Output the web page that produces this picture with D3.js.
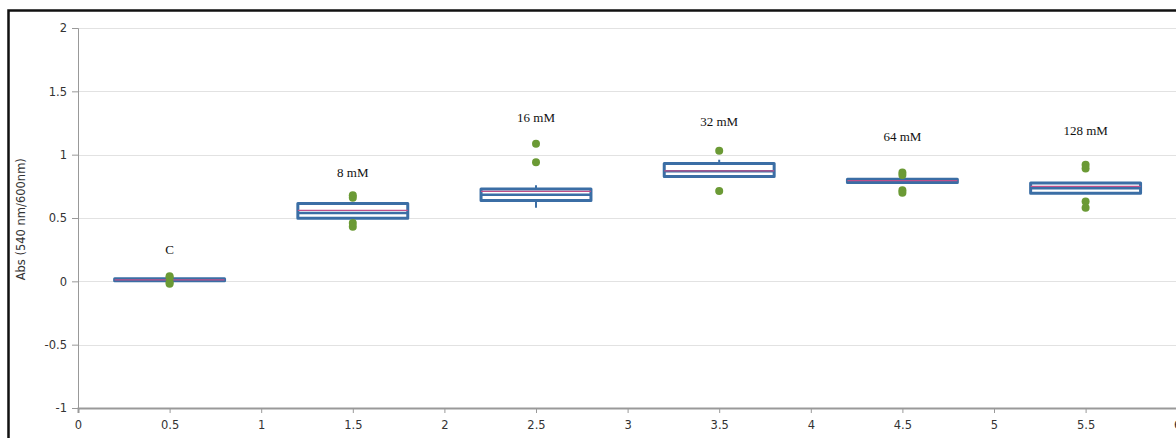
<!DOCTYPE html>
<html><head><meta charset="utf-8">
<script src="https://cdn.jsdelivr.net/npm/d3@7/dist/d3.min.js"></script>
<style>body{margin:0;background:#fff}svg{display:block}</style>
</head><body><svg id="c" width="1176" height="438"></svg>
<script>
const categories = ["C","8 mM","16 mM","32 mM","64 mM","128 mM"];
const positions = [0.5,1.5,2.5,3.5,4.5,5.5];
const q1 = [0.005,0.499,0.638,0.827,0.780,0.696];
const q3 = [0.020,0.614,0.728,0.930,0.805,0.777];
const medians = [0.012,0.540,0.684,0.870,0.792,0.735];
const means = [0.012,0.560,0.710,0.872,0.795,0.750];
const whiskLow = [0.005,0.499,0.580,0.827,0.780,0.696];
const whiskHigh = [0.020,0.614,0.758,0.960,0.805,0.777];
const points = [[0.04,0.03,-0.01,-0.02],[0.68,0.66,0.46,0.43],[1.087,0.94],[1.03,0.713],[0.86,0.84,0.72,0.70],[0.92,0.89,0.63,0.58]];
const labelY = [0.245,0.855,1.287,1.257,1.139,1.186];
const xTicks = [0,0.5,1,1.5,2,2.5,3,3.5,4,4.5,5,5.5,6];
const yTicks = [-1,-0.5,0,0.5,1,1.5,2];
const yTitle = "Abs (540 nm/600nm)";

const svg = d3.select("#c");
const x = d3.scaleLinear().domain([0,6]).range([78,1177.2]);
const y = d3.scaleLinear().domain([-1,2]).range([408,28]);
const half = 0.3;
const boxColor = "#3b6ea5", meanColor = "#c0508a", dotColor = "#6b9a35";
const fmt = d => String(d);

// frame
svg.append("rect").attr("x",8.5).attr("y",10.5).attr("width",1200).attr("height",500)
  .attr("fill","none").attr("stroke","#111").attr("stroke-width",2.5);

// gridlines
svg.append("g").selectAll("line").data(yTicks.filter(t=>t>-1)).join("line")
  .attr("x1",x(0)).attr("x2",1176).attr("y1",d=>Math.round(y(d))+0.5).attr("y2",d=>Math.round(y(d))+0.5)
  .attr("stroke","#e2e2e2").attr("stroke-width",1);

// y axis
const yAxis = svg.append("g").attr("transform",`translate(${x(0)},0)`)
  .call(d3.axisLeft(y).tickValues(yTicks).tickSize(6).tickPadding(5).tickFormat(fmt));
yAxis.select(".domain").attr("stroke","#999");
yAxis.selectAll(".tick line").attr("stroke","#999");
yAxis.selectAll("text").attr("fill","#333").style("font-family","DejaVu Sans").style("font-size","11.5px");

// x axis
const xAxis = svg.append("g").attr("transform",`translate(0,${y(-1)})`)
  .call(d3.axisBottom(x).tickValues(xTicks).tickSize(5).tickPadding(8).tickFormat(fmt));
xAxis.select(".domain").attr("stroke","#999").attr("stroke-width",2);
xAxis.selectAll(".tick line").attr("stroke","#999");
xAxis.selectAll("text").attr("fill","#333").style("font-family","DejaVu Sans").style("font-size","11.5px");

// y title
svg.append("text").attr("transform",`translate(25,${(y(0.06)+y(0.92))/2}) rotate(-90)`)
  .attr("text-anchor","middle").attr("fill","#333").style("font-family","DejaVu Sans").style("font-size","11.5px")
  .text(yTitle);

const g = svg.append("g");
categories.forEach((c,i)=>{
  const cx = x(positions[i]);
  g.append("line").attr("x1",cx).attr("x2",cx).attr("y1",y(whiskHigh[i])).attr("y2",y(whiskLow[i]))
    .attr("stroke",boxColor).attr("stroke-width",2);
  g.append("rect").attr("x",x(positions[i]-half)).attr("width",x(positions[i]+half)-x(positions[i]-half))
    .attr("y",y(q3[i])).attr("height",Math.max(0.01,y(q1[i])-y(q3[i])))
    .attr("fill","#fff").attr("stroke",boxColor).attr("stroke-width",3).attr("stroke-linejoin","round");
  g.append("line").attr("x1",x(positions[i]-half)).attr("x2",x(positions[i]+half))
    .attr("y1",y(medians[i])).attr("y2",y(medians[i])).attr("stroke",boxColor).attr("stroke-width",2.5);
  g.append("line").attr("x1",x(positions[i]-half)).attr("x2",x(positions[i]+half))
    .attr("y1",y(means[i])).attr("y2",y(means[i])).attr("stroke",meanColor).attr("stroke-width",1.2);
  g.selectAll(null).data(points[i]).join("circle")
    .attr("cx",cx).attr("cy",d=>y(d)).attr("r",4).attr("fill",dotColor);
  g.append("text").attr("x",cx).attr("y",y(labelY[i])+4).attr("text-anchor","middle")
    .attr("fill","#111").style("font-family","Liberation Serif").style("font-size","13px").text(c);
});
</script></body></html>
